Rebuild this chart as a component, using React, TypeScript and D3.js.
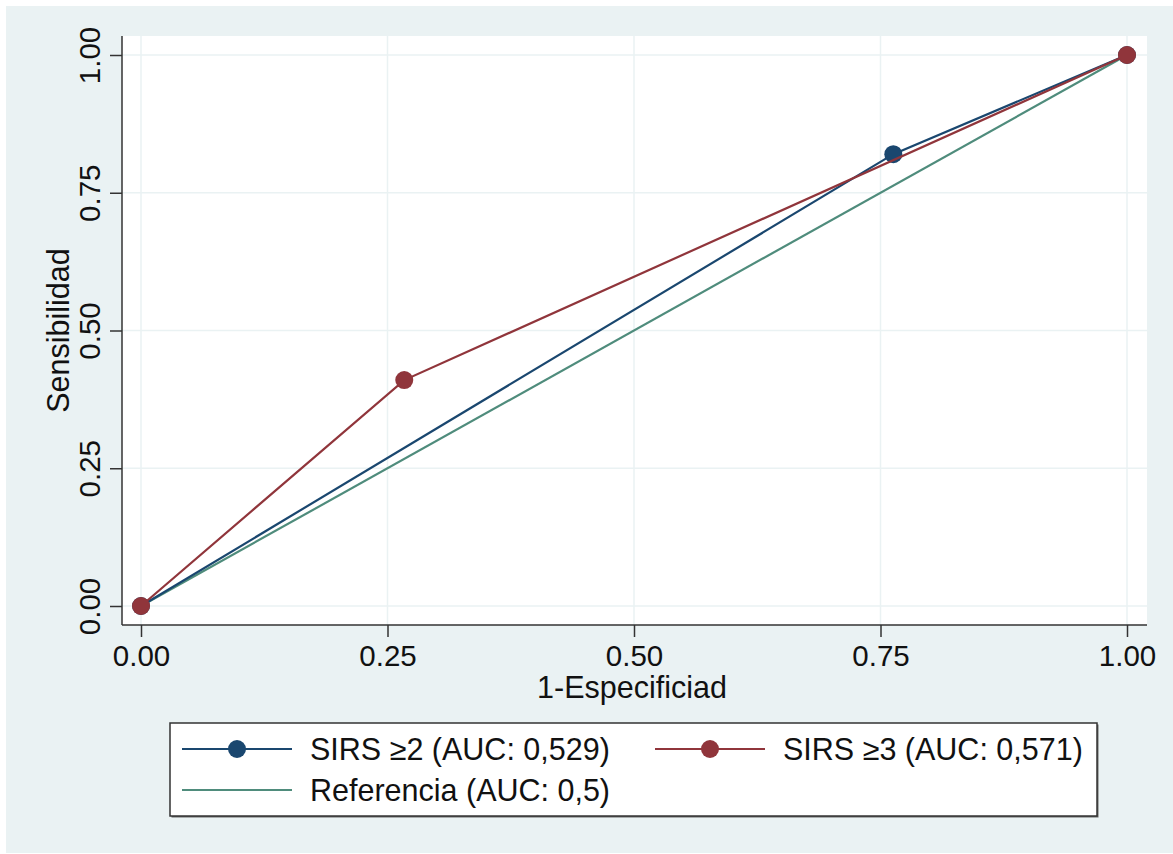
import React, { useRef, useEffect } from "react";
import * as d3 from "d3";

// ROC points (1-specificity, sensitivity)
const sirs2X = [0, 0.763, 1];
const sirs2Y = [0, 0.82, 1];
const sirs3X = [0, 0.267, 1];
const sirs3Y = [0, 0.41, 1];
const refX = [0, 1];
const refY = [0, 1];

const ticks = [0, 0.25, 0.5, 0.75, 1];
const tickLabels = ["0.00", "0.25", "0.50", "0.75", "1.00"];

const legendLabels = ["SIRS ≥2 (AUC: 0,529)", "SIRS ≥3 (AUC: 0,571)", "Referencia (AUC: 0,5)"];

const NAVY = "#1A476F";
const MAROON = "#90353B";
const TEAL = "#4F8C7C";
const BG = "#EAF2F3";
const FONT = "'Liberation Sans', Arial, sans-serif";

const App = () => {
  const svgRef = useRef(null);

  useEffect(() => {
    document.body.style.margin = "0";
    const svg = d3.select(svgRef.current);
    svg.selectAll("*").remove();

    // outer background
    svg.append("rect").attr("x", 6).attr("y", 6).attr("width", 1167).attr("height", 847).attr("fill", BG);

    const left = 122, right = 1147, top = 36, bottom = 625;
    const xScale = d3.scaleLinear().domain([0, 1]).range([141, 1127]);
    const yScale = d3.scaleLinear().domain([0, 1]).range([606, 55]);

    // plot region
    svg.append("rect").attr("x", left).attr("y", top).attr("width", right - left).attr("height", bottom - top).attr("fill", "white");

    // grid
    const grid = svg.append("g");
    ticks.forEach(t => {
      grid.append("line").attr("x1", xScale(t)).attr("x2", xScale(t)).attr("y1", top).attr("y2", bottom)
        .attr("stroke", BG).attr("stroke-width", 1.5);
      grid.append("line").attr("x1", left).attr("x2", right).attr("y1", yScale(t)).attr("y2", yScale(t))
        .attr("stroke", BG).attr("stroke-width", 1.5);
    });

    // axes
    const xAxis = d3.axisBottom(xScale).tickValues(ticks).tickFormat((_, i) => tickLabels[i]).tickSize(12).tickPadding(8);
    const xg = svg.append("g").attr("transform", `translate(0,${bottom})`).call(xAxis);
    xg.select(".domain").attr("d", `M${left},0H${right}`).attr("stroke", "#333").attr("stroke-width", 1.5);
    xg.selectAll(".tick line").attr("stroke", "#333").attr("stroke-width", 1.5);
    xg.selectAll(".tick text").attr("font-family", FONT).attr("font-size", 29.5).attr("fill", "#111");

    const yAxis = d3.axisLeft(yScale).tickValues(ticks).tickFormat((_, i) => tickLabels[i]).tickSize(12);
    const yg = svg.append("g").attr("transform", `translate(${left},0)`).call(yAxis);
    yg.select(".domain").attr("d", `M0,${top}V${bottom}`).attr("stroke", "#333").attr("stroke-width", 1.5);
    yg.selectAll(".tick line").attr("stroke", "#333").attr("stroke-width", 1.5);
    yg.selectAll(".tick text")
      .attr("font-family", FONT).attr("font-size", 29.5).attr("fill", "#111")
      .attr("x", null).attr("dy", null)
      .attr("text-anchor", "middle")
      .attr("transform", "translate(-22,0) rotate(-90)");

    // axis titles
    svg.append("text").attr("x", 632).attr("y", 698).attr("text-anchor", "middle")
      .attr("font-family", FONT).attr("font-size", 30.5).attr("fill", "#111").text("1-Especificiad");
    svg.append("text").attr("transform", `translate(69,${(top + bottom) / 2}) rotate(-90)`).attr("text-anchor", "middle")
      .attr("font-family", FONT).attr("font-size", 30.5).attr("fill", "#111").text("Sensibilidad");

    // series
    const line = d3.line().x(d => xScale(d[0])).y(d => yScale(d[1]));
    const series = [
      { xs: refX, ys: refY, color: TEAL, markers: false },
      { xs: sirs2X, ys: sirs2Y, color: NAVY, markers: true },
      { xs: sirs3X, ys: sirs3Y, color: MAROON, markers: true },
    ];
    series.forEach(s => {
      const pts = s.xs.map((x, i) => [x, s.ys[i]]);
      svg.append("path").attr("d", line(pts)).attr("fill", "none").attr("stroke", s.color).attr("stroke-width", 2.2);
      if (s.markers) {
        svg.selectAll(null).data(pts).enter().append("circle")
          .attr("cx", d => xScale(d[0])).attr("cy", d => yScale(d[1])).attr("r", 9).attr("fill", s.color);
      }
    });

    // legend
    const lg = svg.append("g");
    lg.append("rect").attr("x", 171.5).attr("y", 724.5).attr("width", 927).attr("height", 93).attr("fill", "#666");
    lg.append("rect").attr("x", 170).attr("y", 723).attr("width", 927).attr("height", 93)
      .attr("fill", "white").attr("stroke", "#333").attr("stroke-width", 1.5);
    const entries = [
      { x: 182, y: 749, color: NAVY, marker: true, label: legendLabels[0] },
      { x: 655, y: 749, color: MAROON, marker: true, label: legendLabels[1] },
      { x: 182, y: 790, color: TEAL, marker: false, label: legendLabels[2] },
    ];
    entries.forEach(e => {
      lg.append("line").attr("x1", e.x).attr("x2", e.x + 110).attr("y1", e.y).attr("y2", e.y)
        .attr("stroke", e.color).attr("stroke-width", 2.2);
      if (e.marker) lg.append("circle").attr("cx", e.x + 55).attr("cy", e.y).attr("r", 9).attr("fill", e.color);
      lg.append("text").attr("x", e.x + 128).attr("y", e.y).attr("dy", "0.36em")
        .attr("font-family", FONT).attr("font-size", 30.5).attr("fill", "#111").text(e.label);
    });
  }, []);

  return (
    <div>
      <svg ref={svgRef} width={1173} height={854}></svg>
    </div>
  );
};

export default App;
